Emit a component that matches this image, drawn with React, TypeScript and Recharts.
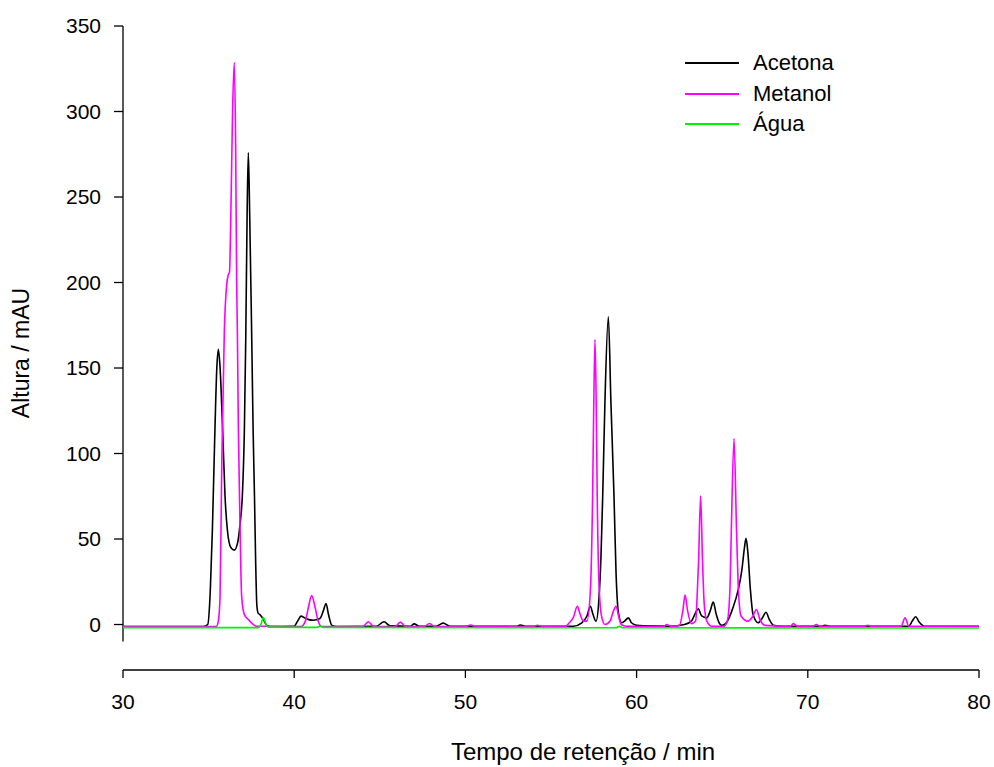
import { LineChart, Line, XAxis, YAxis, ReferenceLine } from 'recharts';

// retention time (min) and height (mAU)
const acetonaTime = [
  30, 34.7, 34.95, 35.1, 35.22, 35.37, 35.48, 35.57, 35.66, 35.82, 35.96, 36.1, 36.3, 36.5, 36.7, 36.85, 36.97,
  37.09, 37.17, 37.25, 37.32, 37.4, 37.52, 37.6, 37.68, 37.75, 37.82, 37.9, 38.0, 38.1, 38.2, 38.4, 38.6,
  40.0, 40.2, 40.4, 40.6, 40.8, 41.1, 41.5, 41.7, 41.86, 42.0, 42.2, 42.5, 44.8, 45.25, 45.6, 46.8, 47.0, 47.3,
  48.3, 48.7, 49.1, 53.0, 53.2, 53.5, 56.3, 56.8, 57.1, 57.3, 57.45, 57.63, 57.8, 57.92, 58.02, 58.15, 58.35,
  58.5, 58.68, 58.8, 58.95, 59.13, 59.3, 59.52, 59.7, 60.0, 60.4, 62.0, 62.8, 63.2, 63.45, 63.6, 63.8, 64.1,
  64.3, 64.48, 64.65, 64.85, 65.0, 65.2, 65.36, 65.6, 65.94, 66.15, 66.3, 66.39, 66.5, 66.65, 66.8, 67.1,
  67.35, 67.56, 67.75, 68.0, 68.5, 70.8, 71.0, 71.3, 75.9, 76.1, 76.3, 76.5, 76.8, 80,
];
const acetonaHeight = [
  -1.2, -1.2, 0, 20, 55, 114, 150, 161, 152, 114, 75, 55, 45, 43.5, 48, 60, 75,
  114, 167, 240, 276, 240, 167, 114, 75, 36, 11, 6.5, 5.8, 4.5, 2.9, -0.5, -1.2,
  -1, 2, 4.9, 4, 3, 2.5, 3.5, 8, 12.3, 6, -0.5, -1.2, -1, 1.6, -0.8, -1, 0.4, -1,
  -1, 0.8, -1, -1, -0.3, -1, -1, 1, 5, 10.7, 6, 2, 15, 40, 75, 130, 180,
  130, 75, 30, 6, 1, 2, 3.9, 1, -0.5, -0.8, -1, 0, 2, 7, 9.2, 5, 3.9,
  8, 13.1, 6, 0.5, -0.5, 0.5, 3, 9, 20.5, 32, 45, 50.4, 42, 20, 6, 1,
  4, 7.2, 3, -0.5, -1, -1, -0.5, -1, -1, 2, 4.5, 1.5, -1, -1,
];

const metanolTime = [
  30, 35.45, 35.57, 35.67, 35.77, 35.92, 36.05, 36.15, 36.22, 36.3, 36.4, 36.5, 36.58, 36.64, 36.68, 36.74,
  36.84, 36.93, 37.09, 37.32, 37.55, 37.8, 40.4, 40.65, 40.85, 41.02, 41.2, 41.4, 41.6, 44.0, 44.33, 44.65,
  45.9, 46.2, 46.5, 47.6, 47.9, 48.2, 50.0, 50.3, 50.6, 54.0, 54.2, 54.5, 55.8, 56.07, 56.3, 56.54, 56.7,
  56.9, 57.1, 57.3, 57.43, 57.5, 57.57, 57.64, 57.7, 57.8, 57.95, 58.15, 58.45, 58.65, 58.8, 58.95, 59.1,
  59.4, 61.6, 61.75, 62.0, 62.5, 62.7, 62.83, 62.98, 63.2, 63.45, 63.55, 63.62, 63.74, 63.85, 63.95, 64.1,
  64.4, 65.1, 65.3, 65.45, 65.53, 65.69, 65.84, 65.95, 66.1, 66.5, 66.8, 67.0, 67.2, 67.5, 69.0, 69.15,
  69.4, 70.3, 70.5, 70.7, 73.3, 73.5, 73.7, 75.45, 75.68, 75.9, 80,
];
const metanolHeight = [
  -1.2, -1.2, 2, 16.6, 94.5, 172, 198, 204.6, 206, 240, 300, 328.6, 280, 200, 172, 114,
  55.5, 16.6, 5.8, 2.9, 0.5, -1, -1.2, 2, 11, 17, 11, 2, -1.2, -1.2, 1.6, -1.2,
  -1.2, 1.4, -1.2, -1.2, 0.6, -1.2, -1.2, -0.3, -1.2, -1.2, -0.4, -1.2, -1.2, 1, 4, 10.7, 6,
  2, 2, 20, 75, 130, 166.6, 130, 75, 25, 5, 0, 2, 8, 10.7, 5, 0,
  -1, -1.2, 0, -1, -0.5, 8, 17.2, 8, 0.5, 2, 20, 37, 75.2, 37, 12, 2,
  -1, -1, 2, 20, 54, 108.8, 54, 20, 5, 2, 5, 8.8, 3, -0.5, -1, 0.6,
  -1, -1, 0, -1, -1, -0.4, -1, -1, 3.9, -1, -1.2,
];

const aguaTime = [30, 37.9, 38.05, 38.2, 38.35, 38.5, 41.3, 41.5, 41.7, 58.8, 59.0, 59.2, 80];
const aguaHeight = [-1.8, -1.8, 0, 4, 0, -1.5, -1.7, -1.0, -1.7, -1.9, -1.0, -1.9, -2.0];

const xTicks = [30, 40, 50, 60, 70, 80];
const yTicks = [0, 50, 100, 150, 200, 250, 300, 350];

const series = [
  { name: 'Acetona', color: '#000000', time: acetonaTime, height: acetonaHeight },
  { name: 'Metanol', color: '#ff00ff', time: metanolTime, height: metanolHeight },
  { name: 'Água', color: '#00f000', time: aguaTime, height: aguaHeight },
];

const FONT = '"Liberation Sans", Arial, sans-serif';

const toRows = (time: number[], height: number[]) => time.map((t, i) => ({ t, h: height[i] }));

export default function App() {
  return (
    <div style={{ position: 'relative', width: 994, height: 767, background: '#fff', fontFamily: FONT }}>
      <style>{`body { margin: 0; }`}</style>
      <LineChart width={994} height={767} margin={{ top: 26, right: 15, bottom: 7, left: 63 }}>
        <XAxis
          type="number"
          dataKey="t"
          domain={[30, 80]}
          ticks={xTicks}
          allowDataOverflow
          axisLine={{ stroke: '#000', strokeWidth: 1.3 }}
          tickLine={{ stroke: '#000', strokeWidth: 1.3 }}
          tickSize={8}
          tickMargin={16}
          height={90}
          tick={{ fontSize: 21, fill: '#000', fontFamily: FONT }}
        />
        <YAxis
          type="number"
          dataKey="h"
          domain={[-26.6, 350]}
          ticks={yTicks}
          allowDataOverflow
          axisLine={false}
          tickLine={{ stroke: '#000', strokeWidth: 1.3 }}
          tickSize={9}
          tickMargin={13}
          width={60}
          tick={{ fontSize: 21, fill: '#000', fontFamily: FONT }}
        />
        <ReferenceLine
          segment={[{ x: 30, y: -10 }, { x: 30, y: 350 }]}
          stroke="#000"
          strokeWidth={1.3}
        />
        {series.map(s => (
          <Line
            key={s.name}
            data={toRows(s.time, s.height)}
            dataKey="h"
            name={s.name}
            type="monotone"
            stroke={s.color}
            strokeWidth={1.6}
            dot={false}
            isAnimationActive={false}
          />
        ))}
      </LineChart>

      {/* axis titles */}
      <div style={{ position: 'absolute', left: 0, top: 736, width: 994, paddingLeft: 172, boxSizing: 'border-box', textAlign: 'center', fontSize: 24, color: '#000', lineHeight: '32px' }}>
        Tempo de retenção / min
      </div>
      <div style={{ position: 'absolute', left: 21, top: 353, transform: 'translate(-50%, -50%) rotate(-90deg)', fontSize: 23, color: '#000', whiteSpace: 'nowrap' }}>
        Altura / mAU
      </div>

      {/* legend */}
      <div style={{ position: 'absolute', left: 685, top: 48 }}>
        {series.map(s => (
          <div key={s.name} style={{ display: 'flex', alignItems: 'center', height: 30.5 }}>
            <div style={{ width: 54, height: 2, background: s.color }} />
            <span style={{ marginLeft: 14, fontSize: 22, color: '#000' }}>{s.name}</span>
          </div>
        ))}
      </div>
    </div>
  );
}
